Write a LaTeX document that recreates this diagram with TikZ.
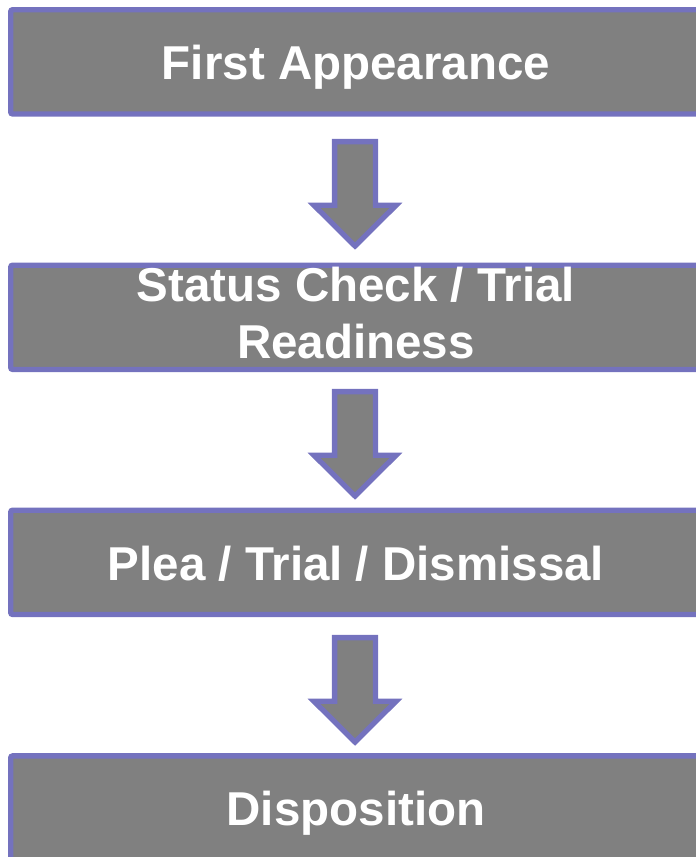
\documentclass[tikz,border=0pt]{standalone}
\usepackage{fontspec}
\setmainfont{Liberation Sans}
\definecolor{edgeblue}{RGB}{116,114,190}
\definecolor{boxgray}{RGB}{128,128,128}
\begin{document}
\begin{tikzpicture}[x=1bp,y=-1bp,
  box/.style={draw=edgeblue,fill=boxgray,line width=5.3bp,rounded corners=2bp,
    minimum width=690.6bp,minimum height=104.3bp,inner sep=0pt,outer sep=0pt},
  txt/.style={text=white,font=\bfseries\fontsize{47.5bp}{57bp}\selectfont,
    align=center,inner sep=0pt,anchor=base},
  blockarrow/.style={draw=edgeblue,fill=boxgray,line width=5.3bp,line join=miter}]
\useasboundingbox (0,0) rectangle (696,857);
\clip (0,0) rectangle (696,857);
% boxes
\node[box] (b1) at (356,61.85) {};
\node[box] (b2) at (356,317.3) {};
\node[box] (b3) at (356,562.35) {};
\node[box] (b4) at (356,808.0) {};
% texts
\node[txt] (t1) at (356,79.3) {First Appearance};
\node[txt] (t2) at (356,358) {Status Check / Trial\\Readiness};
\node[txt] (t3) at (356,580) {Plea / Trial / Dismissal};
\node[txt] (t4) at (356,825) {Disposition};
% arrows
\foreach \dy/\nm in {0/a1,250/a2,496/a3}{
  \draw[blockarrow] (334.6,141.6+\dy) -- (375.4,141.6+\dy) -- (375.4,205.3+\dy)
    -- (396,205.3+\dy) -- (355,246+\dy) -- (314,205.3+\dy) -- (334.6,205.3+\dy) -- cycle;
}
\end{tikzpicture}
\end{document}
